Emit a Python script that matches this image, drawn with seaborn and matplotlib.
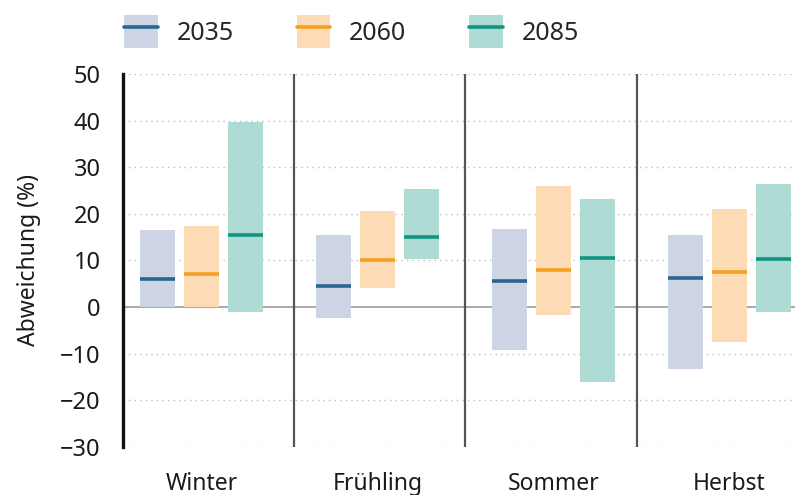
import numpy as np
import pandas as pd
import matplotlib
matplotlib.use('Agg')
import matplotlib.pyplot as plt
from matplotlib.patches import Patch
from matplotlib.lines import Line2D
from matplotlib.legend_handler import HandlerTuple
import seaborn as sns

# [1. Daten]
jahreszeiten = ['Winter', 'Frühling', 'Sommer', 'Herbst']
jahre = ['2035', '2060', '2085']

# Median / untere / obere Grenze je Jahreszeit
median_2035 = [6.0, 4.6, 5.5, 6.2]
unten_2035 = [0.0, -2.3, -9.2, -13.3]
oben_2035 = [16.5, 15.4, 16.8, 15.4]

median_2060 = [7.0, 10.1, 8.0, 7.5]
unten_2060 = [0.0, 4.2, -1.6, -7.5]
oben_2060 = [17.3, 20.6, 26.0, 21.0]

median_2085 = [15.5, 15.1, 10.6, 10.4]
unten_2085 = [-1.1, 10.3, -16.1, -1.1]
oben_2085 = [39.7, 25.4, 23.2, 26.3]

y_ticks = [-30, -20, -10, 0, 10, 20, 30, 40, 50]

df = pd.DataFrame({
    'Jahreszeit': jahreszeiten * 3,
    'Jahr': np.repeat(jahre, 4),
    'Median': median_2035 + median_2060 + median_2085,
    'Unten': unten_2035 + unten_2060 + unten_2085,
    'Oben': oben_2035 + oben_2060 + oben_2085,
})

# [2. Stil]
sns.set_theme(style='white')
plt.rcParams['font.family'] = ['Noto Sans', 'DejaVu Sans']

fuellung = {'2035': '#cdd5e5', '2060': '#fddcb5', '2085': '#afdbd5'}
linie = {'2035': '#2b6592', '2060': '#f5a020', '2085': '#0f9581'}
versatz = {'2035': -0.25, '2060': 0.0, '2085': 0.25}
breite = 0.2

fig = plt.figure(figsize=(7.95, 4.95), dpi=100)
ax = fig.add_axes([0.1547, 0.097, 0.8453, 0.7535])

# Gitter
for t in y_ticks:
    if t == 0:
        ax.axhline(0, color='#a8a8a8', lw=1.4, zorder=1)
    else:
        ax.axhline(t, color='#bdbdbd', lw=1.0, ls=(0, (1, 3)), zorder=0)

# [3. Balken + Median]
pos = {s: i for i, s in enumerate(jahreszeiten)}
for _, r in df.iterrows():
    x = pos[r['Jahreszeit']] + versatz[r['Jahr']]
    ax.bar(x, r['Oben'] - r['Unten'], bottom=r['Unten'], width=breite,
           color=fuellung[r['Jahr']], edgecolor='none', zorder=2)
    ax.hlines(r['Median'], x - breite / 2, x + breite / 2,
              color=linie[r['Jahr']], lw=2.6, zorder=3)

# Trennlinien zwischen den Jahreszeiten
for xs in [0.525, 1.497, 2.474]:
    ax.axvline(xs, color='#555555', lw=1.6, zorder=4)

ax.set_xlim(-0.446, 3.372)
ax.set_ylim(-30, 50)
ax.set_yticks(y_ticks)
ax.set_yticklabels([f'\u2212{abs(t)}' if t < 0 else str(t) for t in y_ticks])
ax.set_xticks(range(len(jahreszeiten)))
ax.set_xticklabels(jahreszeiten)
ax.tick_params(axis='y', labelsize=17, length=0, pad=16, colors='#1a1a1a')
ax.tick_params(axis='x', labelsize=16.5, length=0, pad=18, colors='#1a1a1a')
ax.set_ylabel('Abweichung (%)', fontsize=16.5, color='#1a1a1a', labelpad=14)

sns.despine(ax=ax, top=True, right=True, bottom=True)
ax.spines['left'].set_color('#111111')
ax.spines['left'].set_linewidth(2.4)

# [4. Legende]
handles = [(Patch(facecolor=fuellung[j], edgecolor='none'),
            Line2D([], [], color=linie[j], lw=2.6)) for j in jahre]
fig.legend(handles, jahre, handler_map={tuple: HandlerTuple(ndivide=1, pad=0)},
           loc='upper left', bbox_to_anchor=(0.128, 1.015), ncol=3, frameon=False,
           fontsize=18, handlelength=1.35, handleheight=1.65, handletextpad=0.75,
           columnspacing=2.5)

plt.savefig('out.png', dpi=100)
